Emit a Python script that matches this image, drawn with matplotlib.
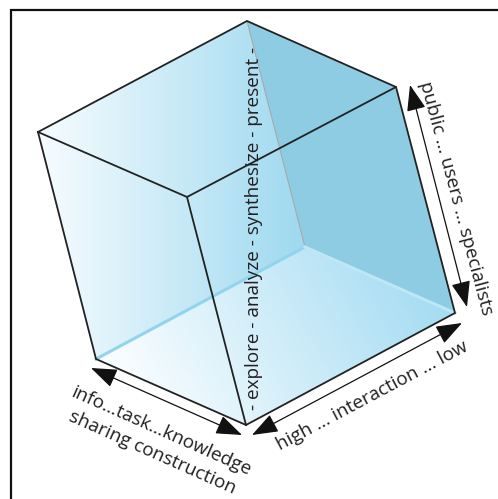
import numpy as np
import matplotlib
matplotlib.use("Agg")
import matplotlib.pyplot as plt
from matplotlib.patches import Polygon, FancyArrowPatch

# cube corners in picture pixels (x right, y down)
top_back = (247, 21)
left = (38, 132)
top_right = (396, 87)
top_front = (187, 197)
bot_left = (96, 359)
bot_front = (246, 425)
bot_right = (455, 313)
hidden = (305, 247)

# axis labels
label_process = "- explore - analyze - synthesize - present -"
label_users = "public ... users ... specialists"
label_interaction = "high ... interaction ... low"
label_sharing = ["info\u2026task\u2026knowledge", "sharing construction"]

W, H = 498, 499

fig = plt.figure(figsize=(W / 100, H / 100), dpi=100)
ax = fig.add_axes([0, 0, 1, 1])
ax.set_xlim(0, W)
ax.set_ylim(H, 0)
ax.axis("off")

xx, yy = np.meshgrid(np.arange(W) + 0.5, np.arange(H) + 0.5)


def grad_img(t, c0, c1):
    t = np.clip(t, 0, 1)[..., None]
    return (1 - t) * np.array(c0) + t * np.array(c1)


def fill(poly, img):
    patch = Polygon(poly, closed=True, facecolor="none", edgecolor="none")
    ax.add_patch(patch)
    im = ax.imshow(img, extent=(0, W, H, 0), interpolation="bilinear", zorder=1)
    im.set_clip_path(patch)


white = (0.97, 0.99, 1.0)
blue_l = (0.62, 0.85, 0.94)
blue_d = (0.56, 0.80, 0.895)
blue_f = (0.64, 0.86, 0.95)

# back left wall, horizontal gradient
t = (xx - left[0]) / (hidden[0] - left[0])
fill([left, top_back, hidden, bot_left], grad_img(t, white, blue_l))

# back right wall, flat
fill([top_back, top_right, bot_right, hidden], grad_img(np.zeros_like(xx), blue_d, blue_d))

# floor, diagonal gradient
d = np.array([1.0, -0.55])
d /= np.linalg.norm(d)
p = (xx - 150) * d[0] + (yy - 410) * d[1]
t = p / ((bot_right[0] - 150) * d[0] + (bot_right[1] - 410) * d[1])
fill([bot_left, hidden, bot_right, bot_front], grad_img(t, white, blue_f))

# hidden edges
ax.plot([top_back[0], hidden[0]], [top_back[1], hidden[1]], color="#a8a8a8", lw=0.8, zorder=2)
ax.plot([bot_left[0], hidden[0]], [bot_left[1], hidden[1]], color="#92d4ee", lw=2.2, zorder=2)
ax.plot([hidden[0], bot_right[0]], [hidden[1], bot_right[1]], color="#bfe6f5", lw=2.2, zorder=2)

# visible edges
edges = [
    [left, top_back, top_right, top_front, left],
    [left, bot_left, bot_front, bot_right, top_right],
    [top_front, bot_front],
]
for e in edges:
    ex, ey = zip(*e)
    ax.plot(ex, ey, color="#222222", lw=1.3, zorder=3, solid_joinstyle="miter")

# arrows
arrows = [((91, 368), (242, 435)), ((252, 435), (462, 323)), ((410, 85), (467, 307))]
for a, b in arrows:
    ax.add_patch(FancyArrowPatch(a, b, arrowstyle="<|-|>,head_length=1.35,head_width=0.5",
                                 mutation_scale=12, color="#111111", lw=0.9,
                                 shrinkA=0, shrinkB=0, zorder=4))

font = "Open Sans"
fs = 13.6
tc = "#231f20"
ax.text(254, 228, label_process, rotation=90, ha="center", va="center",
        rotation_mode="anchor", fontsize=fs, family=font, color=tc, zorder=5)
ax.text(456, 198, label_users, rotation=-75, ha="center", va="center",
        rotation_mode="anchor", fontsize=fs, family=font, color=tc, zorder=5)
ax.text(372, 396, label_interaction, rotation=28, ha="center", va="center",
        rotation_mode="anchor", fontsize=fs, family=font, color=tc, zorder=5)
ax.text(161, 431, label_sharing[0], rotation=-24, ha="center", va="center",
        rotation_mode="anchor", fontsize=fs, family=font, color=tc, zorder=5)
ax.text(152, 453, label_sharing[1], rotation=-24, ha="center", va="center",
        rotation_mode="anchor", fontsize=fs, family=font, color=tc, zorder=5)

# frame
ax.plot([11, 11, W], [H, 10, 10], color="#111111", lw=1.6, zorder=6,
        solid_joinstyle="miter")

fig.savefig("out.png", dpi=100)
